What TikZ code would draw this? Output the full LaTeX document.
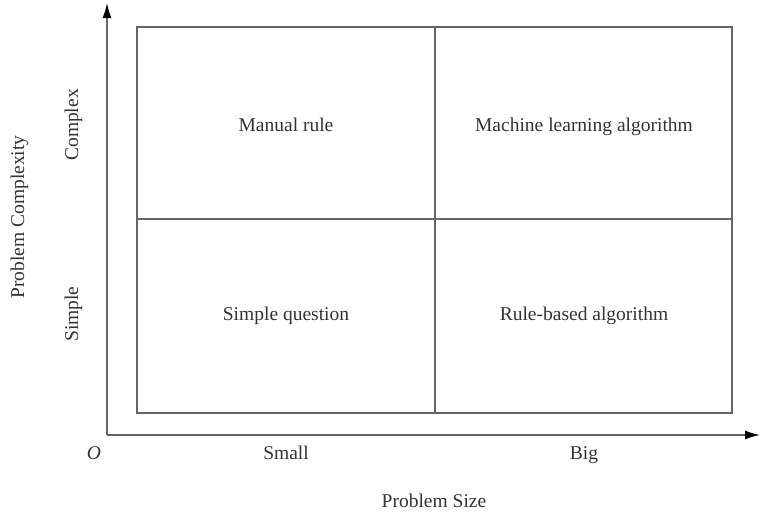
\documentclass[tikz,border=0pt]{standalone}
\usepackage{fontspec}
\setmainfont{Liberation Serif}
\usepackage{tikz}
\usetikzlibrary{arrows.meta}

\begin{document}
\begin{tikzpicture}[x=1pt,y=-1pt]
\tikzstyle{every node}+=[inner sep=0pt]
\tikzstyle{frame}=[draw=black!60,line width=1.3pt]
\tikzstyle{axis}=[draw=black!60,line width=1.3pt,-{Latex[length=15pt,width=9pt,color=black]}]
\tikzstyle{lbl}=[font=\fontsize{19.5}{22}\selectfont,text=black!80,anchor=base]
\useasboundingbox (0,0) rectangle (761,514);
\coordinate (O) at (107,435);
\coordinate (ytop) at (107,3);
\coordinate (xend) at (760,435);
\coordinate (bl) at (137,413);
\coordinate (tr) at (732,27);
\coordinate (mt) at (435,27);
\coordinate (mb) at (435,413);
\coordinate (ml) at (137,219);
\coordinate (mr) at (732,219);
\draw [axis] (O) -- (ytop);
\draw [axis] (O) -- (xend);
\draw [frame] (bl) rectangle (tr);
\draw [frame] (mt) -- (mb);
\draw [frame] (ml) -- (mr);
% quadrant texts
\node [lbl] (manual) at (286,131) {Manual rule};
\node [lbl] (machine) at (584,131) {Machine learning algorithm};
\node [lbl] (simpleq) at (286,320) {Simple question};
\node [lbl] (rulebased) at (584,320) {Rule-based algorithm};
% axis texts
\node [lbl,rotate=90] (complex) at (78,125) {Complex};
\node [lbl,rotate=90] (simple) at (78,314) {Simple};
\node [lbl,rotate=90] (pcomplex) at (24,217) {Problem Complexity};
\node [lbl] (origin) at (94,459) {\textit{O}};
\node [lbl] (small) at (286,459) {Small};
\node [lbl] (big) at (584,459) {Big};
\node [lbl] (psize) at (434,507) {Problem Size};
\end{tikzpicture}
\end{document}
